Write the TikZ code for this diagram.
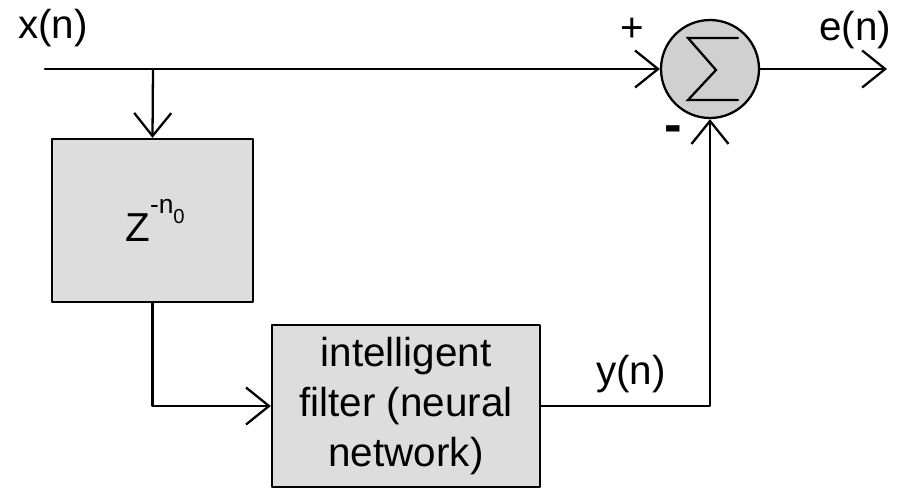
\documentclass[tikz,border=0pt]{standalone}
\usepackage{fontspec}
\setmainfont{Liberation Sans}
\usetikzlibrary{arrows.meta}
\tikzset{
  blk/.style={draw, fill=blkgray, line width=1.3pt, inner sep=0pt, align=center},
  sig/.style={line width=1.3pt, -{Straight Barb[length=4.6mm, width=7.4mm]}},
}
\definecolor{blkgray}{HTML}{DDDDDD}
\definecolor{sumgray}{HTML}{D0D0D0}
\begin{document}
\begin{tikzpicture}[x=0.2mm, y=-0.2mm, font=\fontsize{23}{28.5}\selectfont, line join=round, line cap=round]
  \useasboundingbox (0,0) rectangle (900,488);
  % blocks
  \node[blk, minimum width=40.2mm, minimum height=32.6mm] (delay) at (152.5,220.5)
    {\hspace*{1mm}Z\raisebox{0.7em}{\fontsize{15}{15}\selectfont -n\raisebox{-0.4em}{\fontsize{11.5}{11.5}\selectfont 0}}};
  \node[blk, minimum width=53.6mm, minimum height=32.4mm] (filt) at (406,406)
    {intelligent\\filter (neural\\network)};
  \node[draw, fill=sumgray, circle, line width=1.3pt, minimum size=19.6mm, inner sep=0pt] (sum) at (710,69) {};
  % sigma drawn inside the summer
  \draw[line width=1.3pt, line join=miter] ([shift={(28,-31)}]sum.center) -- ([shift={(-22,-31)}]sum.center)
    -- ([shift={(6,1)}]sum.center) -- ([shift={(-22,31)}]sum.center) -- ([shift={(28,31)}]sum.center);
  % signal lines
  \coordinate (xin) at (45,69);
  \coordinate (br) at (153,69);
  \coordinate (eout) at (887,69);
  \draw[sig] (xin) -- (sum.west);
  \draw[sig] (br) -- (delay.north);
  \draw[sig] (delay.south) |- (filt.west);
  \draw[sig] (filt.east) -| (sum.south);
  \draw[sig] (sum.east) -- (eout);
  % labels
  \node (lx) at (53,28) {x(n)};
  \node (le) at (855,30) {e(n)};
  \node (ly) at (631,374) {y(n)};
  \node (lp) at (632,30) {+};
  \node[font=\fontsize{30}{30}\selectfont\bfseries] (lm) at (673,134) {-};
\end{tikzpicture}
\end{document}
